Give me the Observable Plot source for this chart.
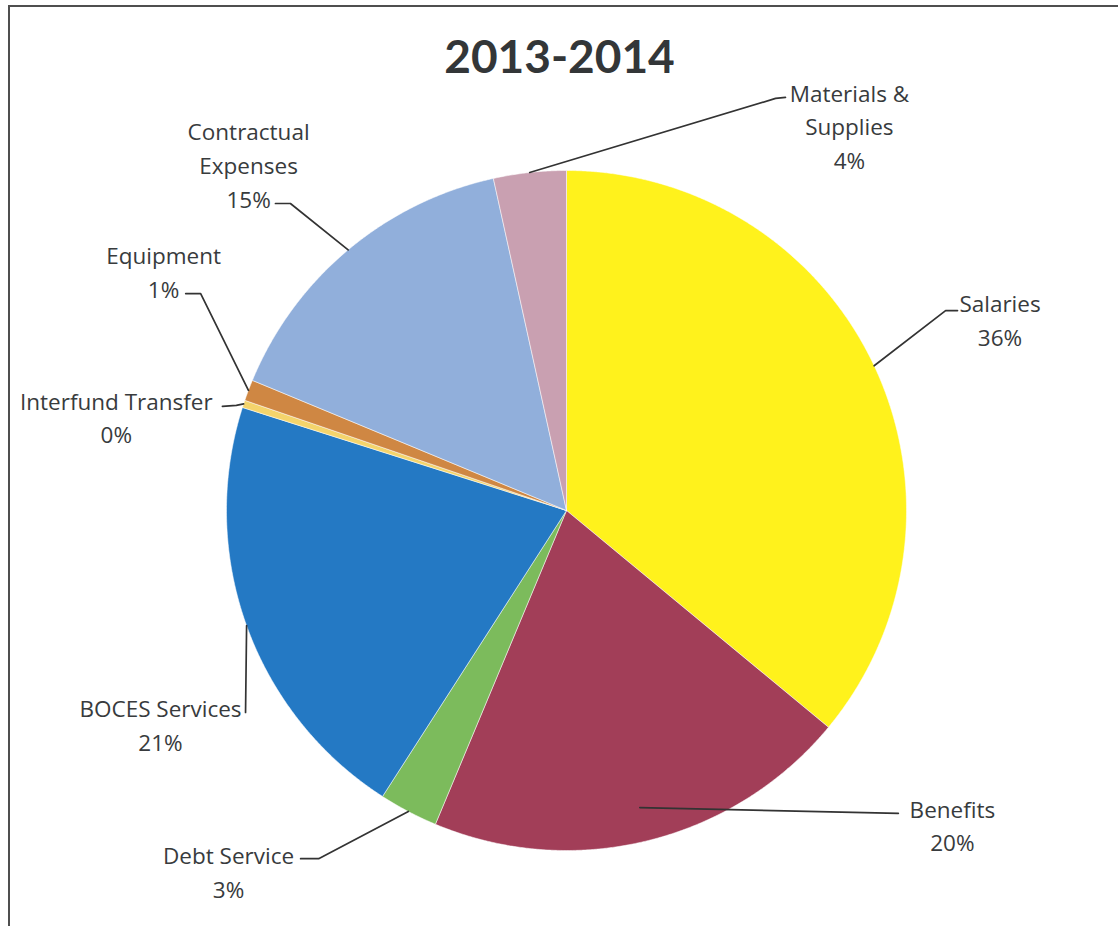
<!DOCTYPE html>
<html><head><meta charset="utf-8">
<script src="https://cdn.jsdelivr.net/npm/d3@7"></script>
<script src="https://cdn.jsdelivr.net/npm/@observablehq/plot@0.6"></script>
<style>
html,body{margin:0;padding:0;background:#fff;overflow:hidden;}
#chart{position:absolute;left:0;top:0;}
#frame{position:absolute;left:8px;top:5px;width:1300px;height:1100px;border:2px solid #4f4f4f;pointer-events:none;}
</style></head><body>
<div id="chart"></div><div id="frame"></div>
<script>
// ---- data ----
const title = "2013-2014";
const categories = ["Salaries","Benefits","Debt Service","BOCES Services","Interfund Transfer","Equipment","Contractual Expenses","Materials & Supplies"];
const values = [36.0, 20.3, 2.8, 20.8, 0.35, 1.0, 15.3, 3.45];
const percentLabels = ["36%","20%","3%","21%","0%","1%","15%","4%"];
const labelText = ["Salaries","Benefits","Debt Service","BOCES Services","Interfund Transfer","Equipment","Contractual\nExpenses","Materials &\nSupplies"];
const colors = ["#FFF21C","#A23E58","#7CBB5C","#2479C4","#F4D46C","#CF8743","#91AFDB","#C9A0B1"];

// ---- layout (pie-radius units, centre = 0,0) ----
const W = 1118, H = 926, CX = 566, CY = 510, R = 340;
const labelPos = [[1.275,0.565],[1.135,-0.921],[-0.994,-1.059],[-1.194,-0.626],[-1.324,0.279],[-1.185,0.706],[-0.935,1.021],[0.832,1.135]];
const leaderStartR = [1,0.9,1,1,1,1,1,1];
const leaderElbow = [[1.115,0.588],[0.976,-0.891],[-0.729,-1.024],[-0.944,-0.594],[-0.971,0.309],[-1.076,0.638],[-0.812,0.903],[0.615,1.212]];
const leaderEnd   = [[1.15,0.588],[0.976,-0.891],[-0.782,-1.024],[-0.944,-0.594],[-1.012,0.306],[-1.12,0.638],[-0.856,0.903],[0.644,1.215]];

const arcs = d3.pie().sort(null).startAngle(0).endAngle(2*Math.PI)(values);
const slicePts = [];
arcs.forEach((a, i) => {
  const name = categories[i];
  slicePts.push({name, x: 0, y: 0});
  const n = Math.max(2, Math.ceil((a.endAngle - a.startAngle) / (Math.PI/720)));
  for (let k = 0; k <= n; k++) {
    const t = a.startAngle + (a.endAngle - a.startAngle) * k / n;
    slicePts.push({name, x: Math.sin(t), y: Math.cos(t)});
  }
  slicePts.push({name, x: 0, y: 0});
});

const leaderPts = [];
arcs.forEach((a, i) => {
  const m = (a.startAngle + a.endAngle) / 2, r = leaderStartR[i];
  leaderPts.push({name: categories[i], x: r*Math.sin(m), y: r*Math.cos(m)});
  leaderPts.push({name: categories[i], x: leaderElbow[i][0], y: leaderElbow[i][1]});
  leaderPts.push({name: categories[i], x: leaderEnd[i][0], y: leaderEnd[i][1]});
});

const labels = categories.map((c, i) => ({name: c, text: labelText[i] + "\n" + percentLabels[i], x: labelPos[i][0], y: labelPos[i][1]}));

const chart = Plot.plot({
  width: W, height: H, margin: 0,
  x: {domain: [-CX/R, (W-CX)/R], axis: null},
  y: {domain: [-(H-CY)/R, CY/R], axis: null},
  color: {domain: categories, range: colors},
  style: {fontFamily: "'Open Sans', sans-serif", background: "#fff"},
  marks: [
    Plot.line(slicePts, {x: "x", y: "y", z: "name", fill: "name", stroke: "#ffffff", strokeWidth: 1, strokeOpacity: 0.5, curve: "linear"}),
    Plot.line(leaderPts, {x: "x", y: "y", z: "name", stroke: "#333", strokeWidth: 1.7}),
    Plot.text(labels, {x: "x", y: "y", text: "text", fontSize: 22.5, lineHeight: 1.5, fill: "#383b3d", textAnchor: "middle"}),
    Plot.text([title], {frameAnchor: "top", dy: 58, text: d => d, fontFamily: "Lato, sans-serif", fontSize: 46, fontWeight: "bold", fill: "#333638", lineAnchor: "middle"})
  ]
});
document.getElementById("chart").appendChild(chart);
</script>
</body></html>
